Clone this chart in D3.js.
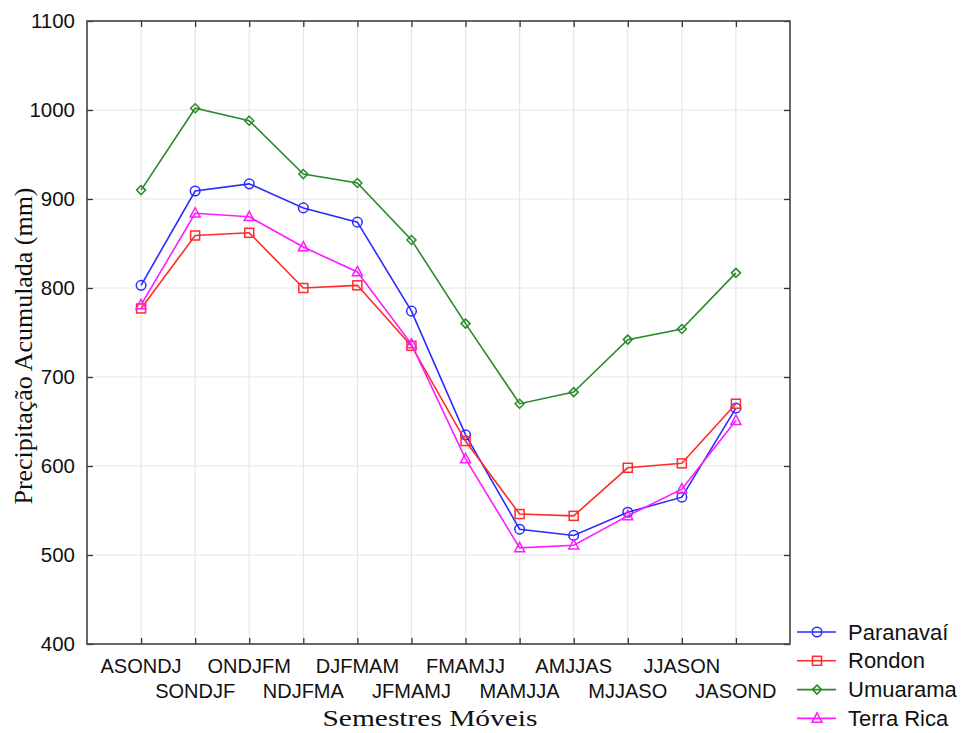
<!DOCTYPE html>
<html><head><meta charset="utf-8">
<script src="https://cdn.jsdelivr.net/npm/d3@7"></script>
<style>html,body{margin:0;padding:0;background:#fff;}</style>
</head><body>
<svg id="c" width="977" height="733"></svg>
<script>
const categories = ["ASONDJ","SONDJF","ONDJFM","NDJFMA","DJFMAM","JFMAMJ","FMAMJJ","MAMJJA","AMJJAS","MJJASO","JJASON","JASOND"];
const paranavai = [803, 909, 917, 890, 874, 774, 635, 529, 522, 548, 565, 665];
const rondon    = [777, 859, 862, 800, 803, 735, 628, 546, 544, 598, 603, 670];
const umuarama  = [910, 1002, 988, 928, 918, 854, 760, 670, 683, 742, 754, 817];
const terraRica = [781, 884, 880, 846, 818, 737, 608, 508, 511, 544, 574, 651];
const yTicks = [400, 500, 600, 700, 800, 900, 1000, 1100];
const seriesNames = ["Paranavaí","Rondon","Umuarama","Terra Rica"];

(function(){
const series = [
  {name: seriesNames[0], values: paranavai, color: "#2b2bff", sym: "circle"},
  {name: seriesNames[1], values: rondon, color: "#ff2b2b", sym: "square"},
  {name: seriesNames[2], values: umuarama, color: "#2a8a2a", sym: "diamond"},
  {name: seriesNames[3], values: terraRica, color: "#ff1aff", sym: "triangle"}
];

const svg = d3.select("#c");
const L = 87, R = 790, T = 21, B = 644;
const x = d3.scaleLinear().domain([0, 13]).range([L, R]);
const y = d3.scaleLinear().domain([400, 1100]).range([B, T]);
const sans = "Arial, 'Liberation Sans', sans-serif";
const serif = "'Liberation Serif', 'Times New Roman', serif";

// grid
const g = svg.append("g");
g.selectAll(".vg").data(categories).enter().append("line")
  .attr("x1", (d,i)=>x(i+1)).attr("x2", (d,i)=>x(i+1)).attr("y1", T).attr("y2", B)
  .attr("stroke", "#e6e6e6").attr("stroke-width", 1.2);
g.selectAll(".hg").data(yTicks).enter().append("line")
  .attr("x1", L).attr("x2", R).attr("y1", d=>y(d)).attr("y2", d=>y(d))
  .attr("stroke", "#e6e6e6").attr("stroke-width", 1.2);

// axes (ticks inward)
const tk = 6;
const ax = svg.append("g").attr("font-family", sans);
const axB = ax.append("g").attr("transform", `translate(0,${B})`)
  .call(d3.axisBottom(x).tickValues(d3.range(1,13)).tickSize(-tk).tickFormat(""));
const axT = ax.append("g").attr("transform", `translate(0,${T})`)
  .call(d3.axisTop(x).tickValues(d3.range(1,13)).tickSize(-tk).tickFormat(""));
const axL = ax.append("g").attr("transform", `translate(${L},0)`)
  .call(d3.axisLeft(y).tickValues(yTicks).tickSize(-tk).tickPadding(12).tickFormat(d3.format("d")));
const axR = ax.append("g").attr("transform", `translate(${R},0)`)
  .call(d3.axisRight(y).tickValues(yTicks).tickSize(-tk).tickFormat(""));
[axB, axT, axL, axR].forEach(a => {
  a.select(".domain").remove();
  a.selectAll(".tick line").attr("stroke", "#333").attr("stroke-width", 1.3);
});
axL.selectAll(".tick text").attr("font-size", 20.5).attr("fill", "#111")
  .attr("font-family", sans);
svg.append("rect").attr("x", L).attr("y", T).attr("width", R-L).attr("height", B-T)
  .attr("fill", "none").attr("stroke", "#444").attr("stroke-width", 1.6);

// x tick labels (two rows)
svg.append("g").selectAll("text").data(categories).enter().append("text")
  .attr("x", (d,i)=>x(i+1)).attr("y", (d,i)=> i%2===0 ? 673 : 698)
  .attr("text-anchor","middle").attr("font-size", 20)
  .attr("font-family", sans).attr("fill","#111")
  .text(d=>d);

// axis titles
svg.append("text").attr("x", 430).attr("y", 726).attr("text-anchor","middle")
  .attr("font-family", serif).attr("font-size", 24).attr("fill","#111")
  .attr("textLength", 215).attr("lengthAdjust", "spacingAndGlyphs")
  .text("Semestres Móveis");
svg.append("text").attr("transform","translate(32,346) rotate(-90)").attr("text-anchor","middle")
  .attr("font-family", serif).attr("font-size", 25).attr("fill","#111")
  .attr("textLength", 317).attr("lengthAdjust", "spacingAndGlyphs")
  .text("Precipitação Acumulada (mm)");

// markers
function marker(sel, sym, color) {
  if (sym === "circle") sel.append("circle").attr("r", 4.8);
  else if (sym === "square") sel.append("rect").attr("x",-4.5).attr("y",-4.5).attr("width",9).attr("height",9);
  else if (sym === "diamond") sel.append("path").attr("d","M0,-4.5L4.5,0L0,4.5L-4.5,0Z");
  else sel.append("path").attr("d","M0,-5.5L5,3.8L-5,3.8Z");
  sel.selectAll("*").attr("fill","none").attr("stroke", color).attr("stroke-width", 1.5);
}

const line = d3.line().x((d,i)=>x(i+1)).y(d=>y(d));
series.forEach(s => {
  const sg = svg.append("g");
  sg.append("path").attr("d", line(s.values)).attr("fill","none")
    .attr("stroke", s.color).attr("stroke-width", 1.6);
  s.values.forEach((v,i) => {
    const m = sg.append("g").attr("transform", `translate(${x(i+1)},${y(v)})`);
    marker(m, s.sym, s.color);
  });
});

// legend
const lg = svg.append("g");
series.forEach((s, i) => {
  const yy = 632 + i*28.8;
  lg.append("line").attr("x1", 797).attr("x2", 836).attr("y1", yy).attr("y2", yy)
    .attr("stroke", s.color).attr("stroke-width", 1.6);
  const m = lg.append("g").attr("transform", `translate(817,${yy})`);
  marker(m, s.sym, s.color);
  lg.append("text").attr("x", 848).attr("y", yy + 7.5).attr("font-size", 22)
    .attr("font-family", sans).attr("fill","#111").text(s.name);
});
})();
</script>
</body></html>
